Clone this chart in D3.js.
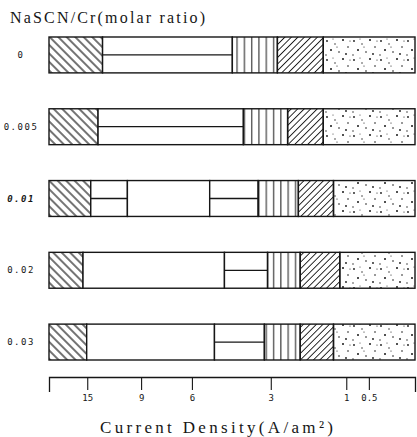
<!DOCTYPE html>
<html>
<head>
<meta charset="utf-8">
<script src="https://cdn.jsdelivr.net/npm/d3@7"></script>
<style>
  body { margin: 0; background: #fff; }
</style>
</head>
<body>
<script>
// NaSCN/Cr molar ratio of each hull cell panel
var ratios = ["0", "0.005", "0.01", "0.02", "0.03"];

// zone boundaries along each panel, read as current density (high -> low)
var bounds0 = [12.7, 4.3, 2.8, 1.55];
var bounds1 = [13.3, 3.9, 2.5, 1.55];
var bounds2 = [14.4, 10.1, 5.2, 3.4, 2.2, 1.3];
var bounds3 = [15.8, 4.6, 3.1, 2.15, 1.15];
var bounds4 = [15.1, 5.0, 3.2, 2.15, 1.3];

// deposit appearance of each zone, left to right
var kinds0 = ["back", "split", "vert", "fwd", "dots"];
var kinds1 = ["back", "split", "vert", "fwd", "dots"];
var kinds2 = ["back", "split", "white", "split", "vert", "fwd", "dots"];
var kinds3 = ["back", "white", "split", "vert", "fwd", "dots"];
var kinds4 = ["back", "white", "split", "vert", "fwd", "dots"];

var allBounds = [bounds0, bounds1, bounds2, bounds3, bounds4];
var allKinds = [kinds0, kinds1, kinds2, kinds3, kinds4];

// axis ticks
var tickValues = [15, 9, 6, 3, 1, 0.5];
var tickLabels = ["15", "9", "6", "3", "1", "0.5"];

var width = 417, height = 437;
var ink = "#161616";

//hull cell: distance (cm) from high current end for current density i at 3 A
function hull(i) {
    return Math.pow(10, (5.10 - i / 3) / 5.24);
}

var svg = d3.select("body")
    .append("svg")
    .attr("width", width)
    .attr("height", height);

var x = d3.scaleLinear()
    .domain([0, 10])
    .range([49, 415]);

var y = d3.scaleBand()
    .domain(ratios)
    .range([37, 360])
    .paddingInner(0.5);

//fill patterns
var defs = svg.append("defs");

var back = defs.append("pattern")
    .attr("id", "back")
    .attr("patternUnits", "userSpaceOnUse")
    .attr("width", 6).attr("height", 6)
    .attr("patternTransform", "rotate(-45)");
back.append("line")
    .attr("x1", 3).attr("x2", 3).attr("y1", 0).attr("y2", 6)
    .attr("stroke", ink).attr("stroke-width", 1.2);

var fwd = defs.append("pattern")
    .attr("id", "fwd")
    .attr("patternUnits", "userSpaceOnUse")
    .attr("width", 4.6).attr("height", 4.6)
    .attr("patternTransform", "rotate(45)");
fwd.append("line")
    .attr("x1", 2.3).attr("x2", 2.3).attr("y1", 0).attr("y2", 4.6)
    .attr("stroke", ink).attr("stroke-width", 0.9);

var vert = defs.append("pattern")
    .attr("id", "vert")
    .attr("patternUnits", "userSpaceOnUse")
    .attr("width", 7.3).attr("height", 10);
vert.append("line")
    .attr("x1", 3.5).attr("x2", 3.5).attr("y1", 0).attr("y2", 10)
    .attr("stroke", ink).attr("stroke-width", 1);

var dots = defs.append("pattern")
    .attr("id", "dots")
    .attr("patternUnits", "userSpaceOnUse")
    .attr("width", 27).attr("height", 19);
dots.selectAll("circle")
    .data([[3, 3, 0.9], [11, 6, 0.7], [19, 2, 1.0], [24, 9, 0.8], [7, 12, 1.0],
           [15, 14, 0.8], [22, 16, 0.9], [2, 17, 0.7], [13, 9, 0.6], [26, 3, 0.6], [9, 1, 0.5]])
    .enter()
    .append("circle")
    .attr("cx", function(d) { return d[0]; })
    .attr("cy", function(d) { return d[1]; })
    .attr("r", function(d) { return d[2]; })
    .attr("fill", ink);

//panel rows
var rows = svg.selectAll(".row")
    .data(ratios)
    .enter()
    .append("g")
    .attr("class", "row");

rows.each(function(r, ri) {
    var g = d3.select(this);
    var edges = [0].concat(allBounds[ri].map(hull)).concat([10]);
    var segs = allKinds[ri].map(function(k, i) {
        return { kind: k, x0: edges[i], x1: edges[i + 1] };
    });
    var top = y(r), bw = y.bandwidth();

    g.selectAll("rect.zone")
        .data(segs)
        .enter()
        .append("rect")
        .attr("class", "zone")
        .attr("x", function(d) { return x(d.x0); })
        .attr("y", top)
        .attr("width", function(d) { return x(d.x1) - x(d.x0); })
        .attr("height", bw)
        .attr("fill", function(d) {
            return (d.kind == "white" || d.kind == "split") ? "#fff" : "url(#" + d.kind + ")";
        })
        .attr("stroke", ink)
        .attr("stroke-width", 1.4);

    g.selectAll("line.mid")
        .data(segs.filter(function(d) { return d.kind == "split"; }))
        .enter()
        .append("line")
        .attr("class", "mid")
        .attr("x1", function(d) { return x(d.x0); })
        .attr("x2", function(d) { return x(d.x1); })
        .attr("y1", top + bw / 2)
        .attr("y2", top + bw / 2)
        .attr("stroke", ink)
        .attr("stroke-width", 1.3);

    g.append("text")
        .attr("x", 21)
        .attr("y", top + bw / 2)
        .attr("dy", "0.35em")
        .attr("text-anchor", "middle")
        .style("font-family", "DejaVu Sans Mono")
        .style("font-size", "9px")
        .style("letter-spacing", "1.5px")
        .style("font-style", r == "0.01" ? "italic" : "normal")
        .style("font-weight", r == "0.01" ? "bold" : "normal")
        .attr("fill", ink)
        .text(r);
});

//current density axis
var axis = d3.axisBottom(x)
    .tickValues(tickValues.map(hull))
    .tickFormat(function(d, i) { return tickLabels[i]; })
    .tickSizeInner(13)
    .tickSizeOuter(15)
    .tickPadding(5);

var ax = svg.append("g")
    .attr("transform", "translate(0,377)")
    .call(axis);
ax.select(".domain").attr("stroke", ink).attr("stroke-width", 1.3);
ax.selectAll(".tick line").attr("stroke", ink).attr("stroke-width", 1.1);
ax.selectAll(".tick text")
    .attr("fill", ink)
    .style("font-family", "DejaVu Sans Mono")
    .style("font-size", "9px");

//titles
svg.append("text")
    .attr("x", 10)
    .attr("y", 23)
    .attr("textLength", 195)
    .attr("lengthAdjust", "spacing")
    .style("font-family", "Liberation Serif")
    .style("font-size", "16px")
    .attr("fill", ink)
    .text("NaSCN/Cr(molar ratio)");

svg.append("text")
    .attr("x", 100)
    .attr("y", 433)
    .attr("textLength", 233)
    .attr("lengthAdjust", "spacing")
    .style("font-family", "Liberation Serif")
    .style("font-size", "17px")
    .attr("fill", ink)
    .text("Current Density(A/am²)");
</script>
</body>
</html>
